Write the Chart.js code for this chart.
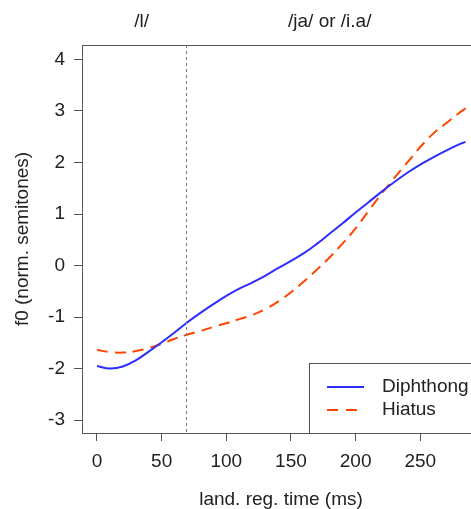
<!doctype html>
<html style="height:100%;">
<head>
    <meta name="viewport" content="width=device-width, initial-scale=1.0" />
</head>

<body style="margin:0;overflow:hidden;background:#fff;">
    <div style="width:490px;height:509px;">
        <canvas id="myChart" width="490" height="509"></canvas>
    </div>
    <script src="https://cdn.jsdelivr.net/npm/chart.js@4/dist/chart.umd.min.js"></script>
    <script>
        // time points (ms) and the two smoothed f0 curves
        const times = [0, 10, 20, 30, 40, 50, 60, 70, 80, 90, 100, 110, 120, 130, 140, 150,
            160, 170, 180, 190, 200, 210, 220, 230, 240, 250, 260, 270, 280, 285];
        const diphthong = [-1.95, -2.00, -1.96, -1.84, -1.67, -1.49, -1.30, -1.10, -0.92, -0.75,
            -0.59, -0.45, -0.33, -0.20, -0.05, 0.09, 0.24, 0.42, 0.62, 0.82,
            1.03, 1.23, 1.43, 1.62, 1.80, 1.96, 2.10, 2.23, 2.35, 2.40];
        const hiatus = [-1.64, -1.68, -1.69, -1.66, -1.60, -1.52, -1.42, -1.34, -1.27, -1.19,
            -1.12, -1.04, -0.96, -0.85, -0.70, -0.52, -0.31, -0.08, 0.16, 0.43,
            0.72, 1.06, 1.39, 1.70, 2.00, 2.30, 2.56, 2.76, 2.96, 3.05];
        const seriesNames = ['Diphthong', 'Hiatus'];

        const xTickVals = [0, 50, 100, 150, 200, 250];
        const yTickVals = [-3, -2, -1, 0, 1, 2, 3, 4];

        // boundary between /l/ and the vowel part, and the labels above the plot
        const boundary = 69;
        const phaseLabels = ['/l/', '/ja/ or /i.a/'];
        const phaseCenters = [34.5, 180];

        const FONT = "'Liberation Sans', Arial, sans-serif";
        const BLUE = 'rgb(45,45,255)';
        const RED = 'orangered';
        const INK = '#222';

        const toPoints = arr => times.map((t, i) => ({ x: t, y: arr[i] }));

        const decorations = {
            id: 'decorations',
            afterDatasetsDraw(chart) {
                const { ctx, chartArea: a, scales: { x } } = chart;
                ctx.save();
                // box round the plot
                ctx.strokeStyle = '#555';
                ctx.lineWidth = 1;
                ctx.strokeRect(a.left + 0.5, a.top + 0.5, a.right - a.left, a.bottom - a.top);

                // dotted boundary line
                const bx = Math.round(x.getPixelForValue(boundary)) + 0.5;
                ctx.strokeStyle = '#777';
                ctx.setLineDash([3, 3]);
                ctx.beginPath();
                ctx.moveTo(bx, a.top);
                ctx.lineTo(bx, a.bottom);
                ctx.stroke();
                ctx.setLineDash([]);

                // labels over the plot
                ctx.fillStyle = INK;
                ctx.font = '19px ' + FONT;
                ctx.textAlign = 'center';
                ctx.textBaseline = 'middle';
                phaseLabels.forEach((lab, i) => {
                    ctx.fillText(lab, x.getPixelForValue(phaseCenters[i]), 22);
                });

                // legend in the bottom right corner
                const lx = 309, ly = 363;
                ctx.fillStyle = '#fff';
                ctx.fillRect(lx, ly, a.right - lx, a.bottom - ly);
                ctx.strokeStyle = '#555';
                ctx.strokeRect(lx + 0.5, ly + 0.5, a.right - lx, a.bottom - ly);
                const colors = [BLUE, RED];
                const dashes = [[], [11, 8]];
                ctx.lineWidth = 2;
                seriesNames.forEach((name, i) => {
                    const yy = 387 + i * 23;
                    ctx.strokeStyle = colors[i];
                    ctx.setLineDash(dashes[i]);
                    ctx.beginPath();
                    ctx.moveTo(327, yy);
                    ctx.lineTo(364, yy);
                    ctx.stroke();
                    ctx.setLineDash([]);
                    ctx.fillStyle = INK;
                    ctx.textAlign = 'left';
                    ctx.fillText(name, 382, yy);
                });
                ctx.restore();
            }
        };

        const ctx = document.getElementById('myChart').getContext('2d');
        const myLineChart = new Chart(ctx, {
            type: 'line',
            data: {
                datasets: [{
                    label: seriesNames[0],
                    data: toPoints(diphthong),
                    borderColor: BLUE,
                    borderWidth: 2,
                    pointRadius: 0,
                    tension: 0.4,
                    fill: false
                }, {
                    label: seriesNames[1],
                    data: toPoints(hiatus),
                    borderColor: RED,
                    borderWidth: 2,
                    borderDash: [11, 7],
                    pointRadius: 0,
                    tension: 0.4,
                    fill: false
                }]
            },
            options: {
                responsive: false,
                animation: false,
                layout: { padding: { left: 0, top: 45, right: 10, bottom: 0 } },
                plugins: { legend: { display: false }, tooltip: { enabled: false } },
                scales: {
                    x: {
                        type: 'linear',
                        min: -11.6,
                        max: 296.2,
                        afterFit: s => { s.height = 76; },
                        afterBuildTicks: s => { s.ticks = xTickVals.map(v => ({ value: v })); },
                        grid: { drawOnChartArea: false, tickLength: 8, color: '#555' },
                        border: { display: true, color: '#555' },
                        ticks: { color: INK, font: { size: 19, family: FONT }, padding: 9, maxRotation: 0 },
                        title: {
                            display: true, text: 'land. reg. time (ms)', color: INK,
                            font: { size: 19, family: FONT, lineHeight: 1 }, padding: { top: 0, bottom: 0 }
                        }
                    },
                    y: {
                        min: -3.25,
                        max: 4.28,
                        afterFit: s => { s.width = 82; },
                        afterBuildTicks: s => { s.ticks = yTickVals.map(v => ({ value: v })); },
                        grid: { drawOnChartArea: false, tickLength: 8, color: '#555' },
                        border: { display: true, color: '#555' },
                        ticks: { color: INK, font: { size: 19, family: FONT }, padding: 9 },
                        title: {
                            display: true, text: 'f0 (norm. semitones)', color: INK,
                            font: { size: 19, family: FONT }, padding: { top: 11, bottom: 0 }
                        }
                    }
                }
            },
            plugins: [decorations]
        });
    </script>
</body>

</html>
